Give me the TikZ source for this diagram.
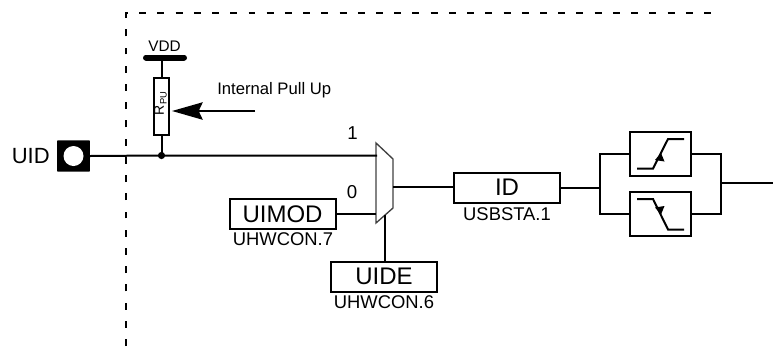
\documentclass[tikz,border=0pt]{standalone}
\usepackage{fontspec}
\setmainfont{Liberation Sans}
\usetikzlibrary{arrows.meta}
\tikzset{
  x=0.75pt,y=-0.75pt,
  wire/.style={line width=1.5pt,line cap=butt},
  regbox/.style={draw,line width=1.5pt,minimum width=79.5pt,minimum height=22.5pt,inner sep=0pt,font=\fontsize{18}{18}\selectfont},
  cellbox/.style={draw,line width=1.5pt,minimum width=46pt,minimum height=33pt,inner sep=0pt},
  sublabel/.style={inner sep=0pt,font=\fontsize{13.8}{14}\selectfont},
  txt/.style={inner sep=0pt}
}
\begin{document}
\begin{tikzpicture}
\useasboundingbox (0,0) rectangle (773,354);
% boundary
\draw[line width=1.5pt,dash pattern=on 5.2pt off 8.465pt] (126,346) -- (126,13) -- (711,13);
% pad
\node[fill=black,minimum width=24.5pt,minimum height=23.5pt,inner sep=0pt,rounded corners=0.5pt] (pad) at (73.5,156) {};
\node[fill=white,circle,minimum size=15pt,inner sep=0pt] (padhole) at (73.5,156) {};
\node[txt,anchor=east,font=\fontsize{16.5}{17}\selectfont] (uid) at (50,156) {UID};
% VDD and resistor
\node[txt,font=\fontsize{11.5}{12}\selectfont] (vdd) at (164.5,46) {VDD};
\coordinate (vddw) at (161,57.5);
\draw[line width=4.5pt,line cap=round] (146,57.5) -- (184,57.5);
\node[draw,line width=1.5pt,minimum width=11pt,minimum height=43pt,inner sep=0pt] (rpu) at (161.5,106.5) {};
\node[txt,rotate=90,font=\fontsize{10.5}{10}\selectfont] (rlabel) at (160.5,103.5) {R\raisebox{-2pt}{\fontsize{7}{7}\selectfont PU}};
\coordinate (junc) at (161.5,155.5);
\draw[wire] (vddw-|rpu) -- (rpu.north);
\draw[wire] (rpu.south) -- (junc);
\fill (junc) circle (2.7pt);
% mux
\coordinate (m1) at (376,143);
\coordinate (m2) at (393,159);
\coordinate (m3) at (393,208);
\coordinate (m4) at (376,223);
\draw[line width=1pt,draw=black!75] (m1) -- (m2) -- (m3) -- (m4) -- cycle;
\coordinate (muxin1) at (377,155.5);
\coordinate (muxin0) at (376,214);
\coordinate (muxout) at (393,187);
\coordinate (muxsel) at (385,215);
\draw[wire] (pad.east) -- (junc) -- (muxin1);
\node[txt,font=\fontsize{14}{14}\selectfont] (l1) at (352.5,133) {1};
\node[txt,font=\fontsize{14}{14}\selectfont] (l0) at (352,192) {0};
% annotation
\node[txt,anchor=west,font=\fontsize{12.5}{13}\selectfont] (ipu) at (217,90) {Internal Pull Up};
\coordinate (arrowstart) at (255,111);
\coordinate (arrowtip) at (172,111);
\draw[line width=1.5pt,-{Stealth[length=23pt,width=13pt,inset=3pt]}] (arrowstart) -- (arrowtip);
% registers
\node[regbox] (uimod) at (282.5,214) {UIMOD};
\node[sublabel] (uimodn) at (283,239.5) {UHWCON.7};
\node[regbox] (uide) at (384,276.5) {UIDE};
\node[sublabel] (uiden) at (384,302.5) {UHWCON.6};
\node[regbox] (id) at (507,187.5) {ID};
\node[sublabel] (idn) at (507,214) {USBSTA.1};
\draw[wire] (uimod.east) -- (muxin0);
\draw[wire] (uide.north-|muxsel) -- (muxsel);
\draw[wire] (muxout) -- (muxout-|id.west);
% schmitt cells
\node[cellbox] (up) at (660.5,153.5) {};
\node[cellbox] (down) at (660.5,214) {};
\coordinate (busL) at (600,187.5);
\coordinate (busR) at (721,183);
\coordinate (out) at (773,183);
\draw[wire] (id.east) -- (busL);
\draw[wire,line join=miter] (up.west) -- (up.west-|busL) -- (down.west-|busL) -- (down.west);
\draw[wire,line join=miter] (up.east) -- (up.east-|busR) -- (down.east-|busR) -- (down.east);
\draw[wire] (busR) -- (out);
% hysteresis glyphs
\draw[wire,line join=miter] (637,168.5) -- (653,168.5) -- (668,139) -- (684,139);
\draw[wire,line join=miter] (637,199) -- (653,199) -- (668,229.5) -- (684,229.5);
\fill (661,153) -- (655,160) -- (664.5,161.5) -- cycle;
\fill (661,214.5) -- (655,207.5) -- (664.5,206) -- cycle;
\end{tikzpicture}
\end{document}
